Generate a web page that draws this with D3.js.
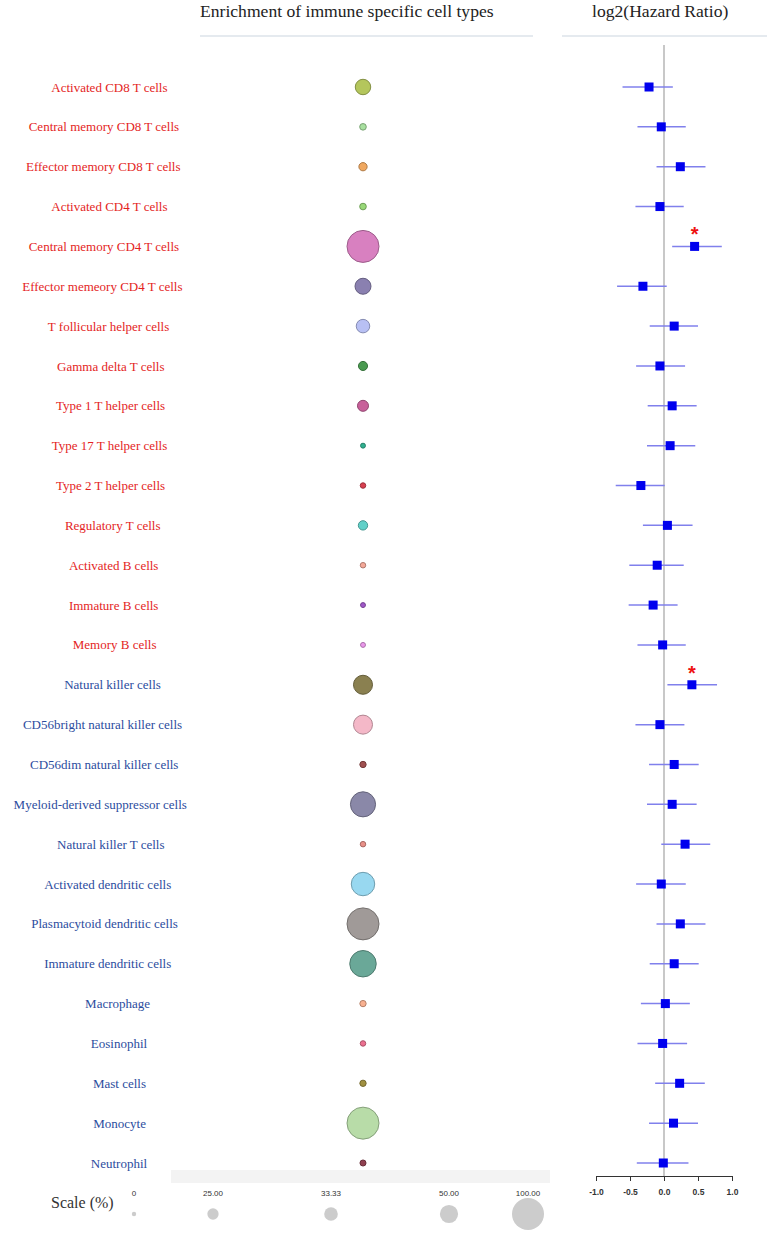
<!DOCTYPE html>
<html>
<head>
<meta charset="utf-8">
<script src="https://cdn.jsdelivr.net/npm/d3@7"></script>
<style>
  html, body { margin: 0; padding: 0; background: #ffffff; }
  svg { display: block; }
</style>
</head>
<body>
<div id="chart"></div>
<script>
// ---------------- DATA ----------------
const cellTypes = [
  "Activated CD8 T cells", "Central memory CD8 T cells", "Effector memory CD8 T cells",
  "Activated CD4 T cells", "Central memory CD4 T cells", "Effector memeory CD4 T cells",
  "T follicular helper cells", "Gamma delta T cells", "Type 1 T helper cells",
  "Type 17 T helper cells", "Type 2 T helper cells", "Regulatory T cells",
  "Activated B cells", "Immature B cells", "Memory B cells",
  "Natural killer cells", "CD56bright natural killer cells", "CD56dim natural killer cells",
  "Myeloid-derived suppressor cells", "Natural killer T cells", "Activated dendritic cells",
  "Plasmacytoid dendritic cells", "Immature dendritic cells", "Macrophage",
  "Eosinophil", "Mast cells", "Monocyte", "Neutrophil"
];
// group: adaptive (red labels) vs innate (blue labels)
const cellGroup = [
  "adaptive","adaptive","adaptive","adaptive","adaptive","adaptive","adaptive","adaptive",
  "adaptive","adaptive","adaptive","adaptive","adaptive","adaptive","adaptive",
  "innate","innate","innate","innate","innate","innate","innate","innate","innate",
  "innate","innate","innate","innate"
];
// enrichment (%) -> bubble size
const enrichment = [40, 8, 14, 8, 100, 42, 33, 17, 24, 2, 4, 18, 4, 2, 2,
                    53, 53, 7, 75, 4, 69, 100, 80, 7, 4, 7, 100, 6];
// log2 hazard ratio and 95% CI
const log2HR = [-0.22, -0.04, 0.24, -0.06, 0.45, -0.31, 0.15, -0.06, 0.12, 0.09, -0.34, 0.05,
                -0.10, -0.16, -0.02, 0.41, -0.06, 0.15, 0.12, 0.31, -0.04, 0.24, 0.15, 0.02,
                -0.02, 0.23, 0.14, -0.01];
const ciLow = [-0.61, -0.39, -0.11, -0.42, 0.12, -0.69, -0.21, -0.41, -0.24, -0.25, -0.71, -0.31,
               -0.51, -0.52, -0.39, 0.05, -0.42, -0.22, -0.25, -0.04, -0.41, -0.11, -0.21, -0.34,
               -0.39, -0.13, -0.22, -0.40];
const ciHigh = [0.13, 0.32, 0.61, 0.29, 0.85, 0.04, 0.50, 0.31, 0.48, 0.46, 0.01, 0.42,
                0.29, 0.20, 0.32, 0.78, 0.30, 0.51, 0.48, 0.68, 0.32, 0.61, 0.51, 0.38,
                0.34, 0.60, 0.50, 0.36];
const significant = [false,false,false,false,true,false,false,false,false,false,false,false,
                     false,false,false,true,false,false,false,false,false,false,false,false,
                     false,false,false,false];
const hrTicks = [-1.0, -0.5, 0.0, 0.5, 1.0];
const scaleValues = [0, 25, 33.33, 50, 100];
const scaleLabels = ["0", "25.00", "33.33", "50.00", "100.00"];
const titleLeft = "Enrichment of immune specific cell types";
const titleRight = "log2(Hazard Ratio)";
const scaleTitle = "Scale (%)";

// ---------------- STYLE ----------------
const bubbleFills = ["#b4c65c","#a8e0a0","#f0a860","#98d878","#d880c0","#8a80b0","#b8c0f4",
  "#4a9a50","#c8609a","#30b090","#d84050","#60d0c8","#f4a898","#a058c8","#ea98ea",
  "#8a8050","#f4b8c8","#a05050","#8a88a8","#e89088","#98d8f0","#a09a98","#6aa898",
  "#f8b090","#ec7090","#a09040","#b8dca8","#904050"];
const groupColor = d3.scaleOrdinal(["adaptive","innate"], ["#e41e1e", "#2b4c9e"]);
const serif = "'Liberation Serif', 'Times New Roman', serif";
const sans = "'Liberation Sans', Arial, sans-serif";

const W = 768, H = 1233;
const svg = d3.select("#chart").append("svg").attr("width", W).attr("height", H);

const rows = cellTypes.map((name, i) => ({
  name, group: cellGroup[i], enr: enrichment[i], hr: log2HR[i],
  lo: ciLow[i], hi: ciHigh[i], sig: significant[i], fill: bubbleFills[i]
}));

// scales
const y = d3.scalePoint().domain(cellTypes).range([87, 1163]);
const r = d3.scaleLinear().domain([0, 100]).range([2.2, 16]);
const x = d3.scaleLinear().domain([-1, 1]).range([596, 732]);
const bubbleX = 363;

// ---------------- HEADERS ----------------
svg.append("text").attr("x", 200).attr("y", 17)
  .attr("font-family", serif).attr("font-size", 17.6).attr("fill", "#222")
  .text(titleLeft);
svg.append("text").attr("x", 592).attr("y", 17)
  .attr("font-family", serif).attr("font-size", 17.6).attr("fill", "#222")
  .text(titleRight);
svg.append("line").attr("x1", 200).attr("x2", 533).attr("y1", 36).attr("y2", 36)
  .attr("stroke", "#dde3ea").attr("stroke-width", 1.5);
svg.append("line").attr("x1", 562).attr("x2", 767).attr("y1", 36).attr("y2", 36)
  .attr("stroke", "#dde3ea").attr("stroke-width", 1.5);

// ---------------- LABELS ----------------
const labels = svg.append("g").selectAll("text").data(rows).join("text")
  .attr("y", d => y(d.name))
  .attr("dy", "0.35em")
  .attr("font-family", serif).attr("font-size", 13)
  .attr("fill", d => groupColor(d.group))
  .text(d => d.name);
labels.each(function() {
  const w = this.getComputedTextLength();
  d3.select(this).attr("x", 128 - 0.66 * w);
});

// ---------------- BUBBLES ----------------
svg.append("rect").attr("x", 171).attr("y", 1170).attr("width", 379).attr("height", 13)
  .attr("fill", "#f3f3f3");

svg.append("g").selectAll("circle").data(rows).join("circle")
  .attr("cx", bubbleX).attr("cy", d => y(d.name)).attr("r", d => r(d.enr))
  .attr("fill", d => d.fill)
  .attr("stroke", d => d3.color(d.fill).darker(0.9))
  .attr("stroke-width", 1);

// legend
const legendX = d3.scaleOrdinal().domain(scaleLabels).range([134, 213, 331, 449, 528]);
svg.append("text").attr("x", 51).attr("y", 1208)
  .attr("font-family", serif).attr("font-size", 16).attr("fill", "#333").text(scaleTitle);
const leg = svg.append("g").selectAll("g").data(scaleValues).join("g");
leg.append("text")
  .attr("x", (d, i) => legendX(scaleLabels[i])).attr("y", 1196)
  .attr("text-anchor", "middle").attr("font-family", sans).attr("font-size", 8)
  .attr("fill", "#333").text((d, i) => scaleLabels[i]);
leg.append("circle")
  .attr("cx", (d, i) => legendX(scaleLabels[i])).attr("cy", 1214)
  .attr("r", d => r(d)).attr("fill", "#cccccc");

// ---------------- FOREST PLOT ----------------
svg.append("line").attr("x1", x(0)).attr("x2", x(0)).attr("y1", 45).attr("y2", 1176)
  .attr("stroke", "#c8c8c8").attr("stroke-width", 2);

const f = svg.append("g");
f.selectAll("line.ci").data(rows).join("line").attr("class", "ci")
  .attr("x1", d => x(d.lo)).attr("x2", d => x(d.hi))
  .attr("y1", d => y(d.name)).attr("y2", d => y(d.name))
  .attr("stroke", "#8080ec").attr("stroke-width", 1.5);
f.selectAll("rect").data(rows).join("rect")
  .attr("x", d => x(d.hr) - 4.5).attr("y", d => y(d.name) - 4.5)
  .attr("width", 9).attr("height", 9).attr("fill", "#0000ee");
f.selectAll("text.star").data(rows.filter(d => d.sig)).join("text").attr("class", "star")
  .attr("x", d => x(d.hr)).attr("y", d => y(d.name) - 5)
  .attr("text-anchor", "middle").attr("font-family", sans).attr("font-size", 20)
  .attr("font-weight", "bold").attr("fill", "#ee1111").text("*");

const axis = d3.axisBottom(x).tickValues(hrTicks).tickFormat(d => d.toFixed(1))
  .tickSize(5).tickSizeOuter(0).tickPadding(8);
const ax = svg.append("g").attr("transform", "translate(0,1176)").call(axis);
ax.select(".domain").attr("stroke", "#333");
ax.selectAll(".tick line").attr("stroke", "#333");
ax.selectAll(".tick text").attr("font-family", sans).attr("font-size", 8.5)
  .attr("font-weight", "bold").attr("fill", "#333");
</script>
</body>
</html>
